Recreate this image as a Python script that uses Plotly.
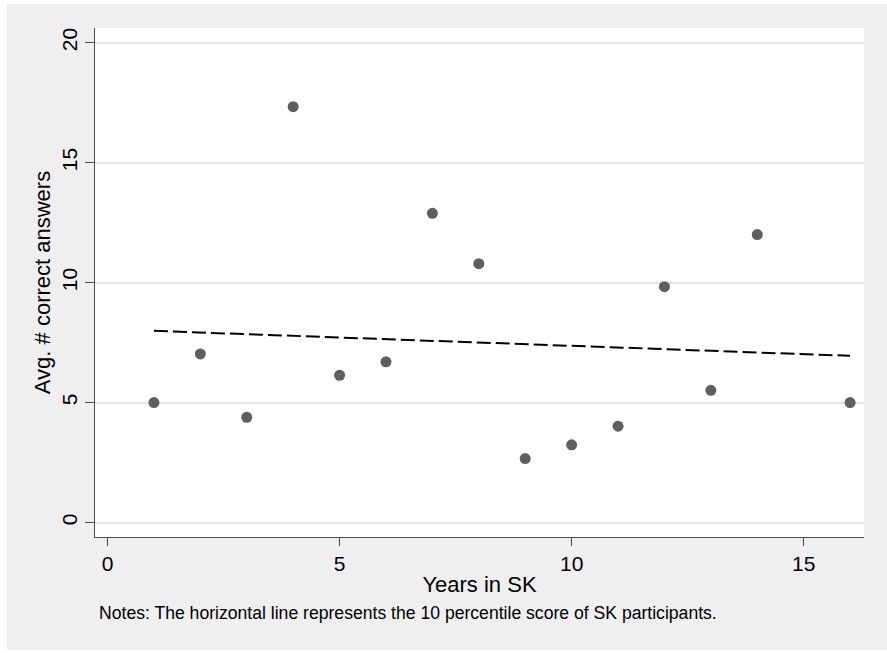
import plotly.graph_objects as go

# Data
years = [1, 2, 3, 4, 5, 6, 7, 8, 9, 10, 11, 12, 13, 14, 16]
avg_correct = [5.0, 7.03, 4.39, 17.33, 6.14, 6.70, 12.89, 10.79, 2.67, 3.24, 4.02, 9.83, 5.51, 12.0, 5.0]
fit_x = [1, 16]
fit_y = [7.99, 6.95]
x_ticks = [0, 5, 10, 15]
y_ticks = [0, 5, 10, 15, 20]
note = "Notes: The horizontal line represents the 10 percentile score of SK participants."

FONT = "Liberation Sans, Arial, sans-serif"
AX = "#4d4d4d"

fig = go.Figure()
fig.add_trace(go.Scatter(
    x=years, y=avg_correct, mode="markers",
    marker=dict(size=11, color="#5f5f5f", line=dict(width=0)),
    showlegend=False, cliponaxis=False))
fig.add_trace(go.Scatter(
    x=fit_x, y=fit_y, mode="lines",
    line=dict(color="black", width=2, dash="14px,5px"),
    showlegend=False))

W, H = 887, 653
L, R, T, B = 95, 23, 28, 116
pw, ph = W - L - R, H - T - B

def px_x(p):
    return (p - L) / pw

def px_y(p):
    return (H - B - p) / ph

shapes = []
for (x0, x1, y0, y1) in [(0, 7, 0, 653), (0, 887, 0, 4), (0, 887, 650, 653)]:
    shapes.append(dict(type="rect", xref="paper", yref="paper",
                       x0=px_x(x0), x1=px_x(x1), y0=px_y(y1), y1=px_y(y0),
                       fillcolor="white", line=dict(width=0), layer="below"))

fig.update_layout(
    width=W, height=H,
    margin=dict(l=L, r=R, t=T, b=B),
    paper_bgcolor="#efefef", plot_bgcolor="white",
    font=dict(family=FONT, color="black", size=21),
    shapes=shapes,
    annotations=[dict(text=note, xref="paper", yref="paper",
                      x=px_x(97), y=px_y(613), xanchor="left", yanchor="middle",
                      showarrow=False, font=dict(size=17.6, family=FONT, color="black"))],
)
fig.update_xaxes(
    range=[-0.27, 16.30], tickvals=x_ticks, showgrid=False, zeroline=False,
    showline=True, linecolor=AX, linewidth=1,
    ticks="outside", ticklen=8, tickcolor=AX, tickwidth=1,
    tickfont=dict(size=21),
    title=dict(text="Years in SK", font=dict(size=22), standoff=2))
fig.update_yaxes(
    range=[-0.60, 20.61], tickvals=y_ticks, tickangle=-90,
    showgrid=True, gridcolor="#e4e4e4", gridwidth=1.6, zeroline=False,
    showline=True, linecolor=AX, linewidth=1,
    ticks="outside", ticklen=9, tickcolor=AX, tickwidth=1,
    tickfont=dict(size=21),
    title=dict(text="Avg. # correct answers", font=dict(size=22), standoff=0))

fig.write_html("out.html")
